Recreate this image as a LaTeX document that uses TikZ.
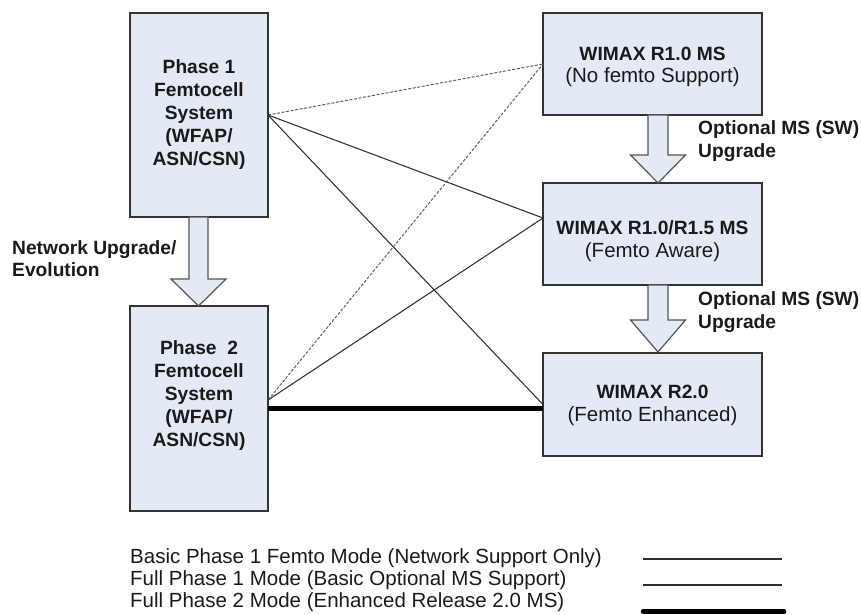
\documentclass[tikz,border=0pt]{standalone}
\usepackage{fontspec}
\setmainfont{Liberation Sans}
\usetikzlibrary{calc}
\definecolor{boxfill}{HTML}{E4EAF5}
\definecolor{boxdraw}{HTML}{333333}
\definecolor{arrdraw}{HTML}{555555}
\definecolor{txtcol}{HTML}{1A1A1A}
\definecolor{linecol}{HTML}{2E2E2E}
\newcommand{\bfnt}{\fontsize{19.2}{23}\selectfont\bfseries}
\newcommand{\rfnt}{\fontsize{20.5}{22.5}\selectfont}
\newcommand{\blockarr}[4]{% top, tip, head length, shaft half
  \draw[barrow] ($(#1)+(-#4,0)$) -- ($(#1)+(#4,0)$) -- ($(#2)+(#4,-#3)$) -- ($(#2)+(27.5,-#3)$) -- (#2) -- ($(#2)+(-27.5,-#3)$) -- ($(#2)+(-#4,-#3)$) -- cycle;}
\begin{document}
\begin{tikzpicture}[x=1pt,y=-1pt,
  box/.style={draw=boxdraw,fill=boxfill,line width=1.4pt,outer sep=0pt,inner sep=0pt},
  txt/.style={text=txtcol,align=center,inner sep=0pt},
  lbl/.style={text=txtcol,inner sep=0pt,anchor=base west,font=\bfnt},
  leg/.style={text=txtcol,inner sep=0pt,anchor=base west,font=\rfnt},
  barrow/.style={draw=arrdraw,fill=boxfill,line width=1.2pt,line join=miter},
  thinline/.style={draw=linecol,line width=1.05pt},
  dashline/.style={draw=linecol!80,line width=0.95pt,dash pattern=on 3pt off 1.6pt},
  boldline/.style={draw=black,line width=5pt}]
\useasboundingbox (0,0) rectangle (861,615);

% boxes
\node[box,minimum width=138pt,minimum height=204pt] (p1) at (199,115) {};
\node[box,minimum width=138pt,minimum height=205pt] (p2) at (199,408.5) {};
\node[box,minimum width=219pt,minimum height=102pt] (r1) at (652.5,64) {};
\node[box,minimum width=219pt,minimum height=102pt] (r2) at (652.5,234) {};
\node[box,minimum width=219pt,minimum height=103pt] (r3) at (652.5,404.5) {};

% box texts
\node[txt,font=\bfnt] (p1t) at (p1.center) {Phase 1\\Femtocell\\System\\(WFAP/\\ASN/CSN)};
\node[txt,font=\bfnt] (p2t) at ($(p2.center)+(0,-13)$) {Phase\ \ 2\\Femtocell\\System\\(WFAP/\\ASN/CSN)};
\node[txt,font=\rfnt] (r1t) at ($(r1.center)+(0,3)$) {{\bfnt WIMAX R1.0 MS}\\(No femto Support)};
\node[txt,font=\rfnt] (r2t) at ($(r2.center)+(0,7)$) {{\bfnt WIMAX R1.0/R1.5 MS}\\(Femto Aware)};
\node[txt,font=\rfnt] (r3t) at ($(r3.center)+(0,1)$) {{\bfnt WIMAX R2.0}\\(Femto Enhanced)};

% block arrows
\coordinate (a1s) at ($(p1.south)+(-0.5,0)$);
\coordinate (a1t) at ($(p2.north)+(-0.5,0)$);
\coordinate (a2s) at ($(r1.south)+(5.5,0)$);
\coordinate (a2t) at ($(r2.north)+(5.5,0)$);
\coordinate (a3s) at ($(r2.south)+(5.5,0)$);
\coordinate (a3t) at ($(r3.north)+(5.5,-1)$);
\blockarr{a1s}{a1t}{27}{9.5}
\blockarr{a2s}{a2t}{28}{10}
\blockarr{a3s}{a3t}{32}{10}

% connectors
\coordinate (p2u) at ($(p2.east)+(0,-8.5)$);
\coordinate (r2u) at ($(r2.west)+(0,-16)$);
\draw[dashline] (p1.east) -- (r1.west);
\draw[thinline] (p1.east) -- (r2u);
\draw[thinline] (p1.east) -- (r3.west);
\draw[dashline] (p2u) -- (r1.west);
\draw[thinline] (p2u) -- (r2u);
\draw[boldline] (p2.east) -- (p2.east -| r3.west);

% side labels
\node[lbl] (l1a) at (698,134) {Optional MS (SW)};
\node[lbl] (l1b) at (698,157) {Upgrade};
\node[lbl] (l2a) at (698,305) {Optional MS (SW)};
\node[lbl] (l2b) at (698,328) {Upgrade};
\node[lbl] (l3a) at (12,254) {Network Upgrade/};
\node[lbl] (l3b) at (12,276) {Evolution};

% legend
\node[leg] (g1) at (130,563) {Basic Phase 1 Femto Mode (Network Support Only)};
\node[leg] (g2) at (130,585) {Full Phase 1 Mode (Basic Optional MS Support)};
\node[leg] (g3) at (130,607) {Full Phase 2 Mode (Enhanced Release 2.0 MS)};
\coordinate (k1a) at (643,559); \coordinate (k1b) at (782,559);
\coordinate (k2a) at (643,585); \coordinate (k2b) at (782,585);
\coordinate (k3a) at (643,611.5); \coordinate (k3b) at (784,611.5);
\draw[thinline] (k1a) -- (k1b);
\draw[thinline] (k2a) -- (k2b);
\draw[boldline,line cap=round,line width=4.5pt] (k3a) -- (k3b);
\end{tikzpicture}
\end{document}
